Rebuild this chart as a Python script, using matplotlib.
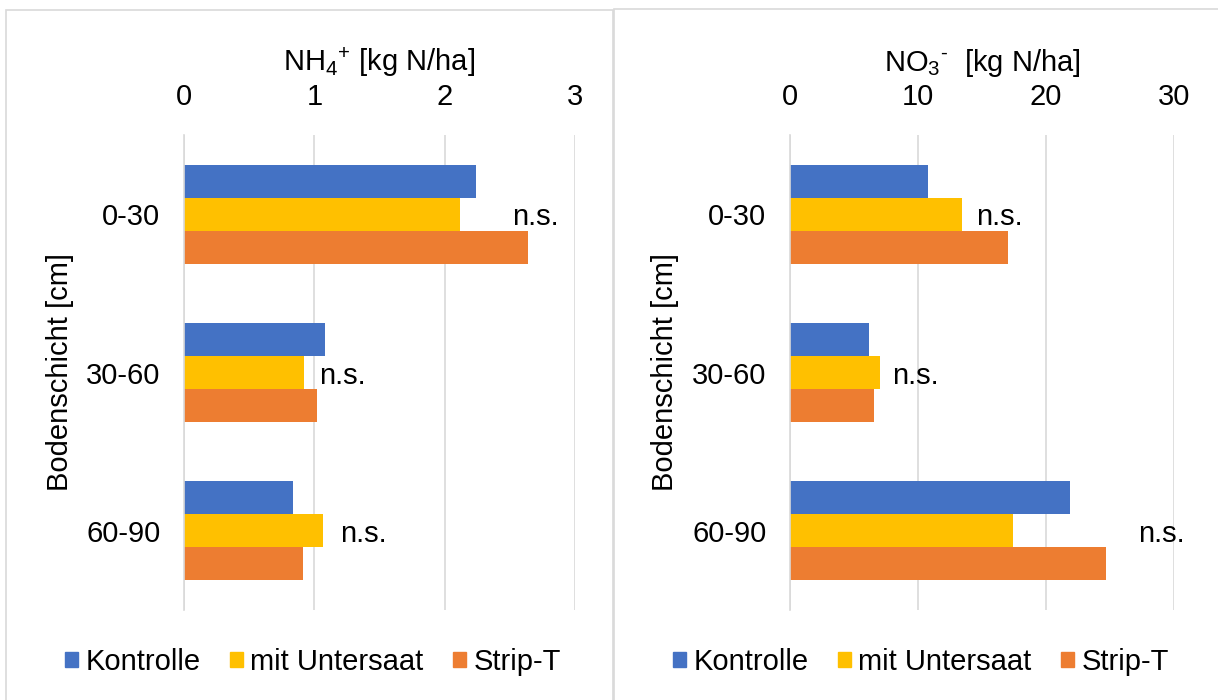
import numpy as np
import matplotlib
matplotlib.use("Agg")
from matplotlib import pyplot as plt
from matplotlib.patches import Rectangle, Patch

plt.rcParams["font.family"] = ["Liberation Sans", "DejaVu Sans"]
plt.rcParams["mathtext.default"] = "regular"

layers = ["0-30", "30-60", "60-90"]
treatments = ["Kontrolle", "mit Untersaat", "Strip-T"]
colors = ["#4472C4", "#FFC000", "#ED7D31"]

# NH4+ [kg N/ha] per layer, one list per treatment
nh4 = {
    "Kontrolle": [2.24, 1.08, 0.84],
    "mit Untersaat": [2.12, 0.92, 1.07],
    "Strip-T": [2.64, 1.02, 0.91],
}
# NO3- [kg N/ha]
no3 = {
    "Kontrolle": [10.8, 6.2, 21.9],
    "mit Untersaat": [13.4, 7.0, 17.4],
    "Strip-T": [17.0, 6.6, 24.7],
}
nh4_ticks = [0, 1, 2, 3]
no3_ticks = [0, 10, 20, 30]
# where the "n.s." notes sit (x in data units)
nh4_note_x = [2.52, 1.04, 1.20]
no3_note_x = [14.5, 8.0, 27.2]

W, H = 1218, 700
FS = 21
GRID = "#d9d9d9"

fig = plt.figure(figsize=(W / 100, H / 100), dpi=100)


def px_box(x0, y0, x1, y1):
    return [x0 / W, 1 - y1 / H, (x1 - x0) / W, (y1 - y0) / H]


# light frames round each chart
for x0, y0, x1, y1 in [(6, 10, 613, 710), (614, 9, 1230, 710)]:
    fig.patches.append(Rectangle((x0 / W, 1 - y1 / H), (x1 - x0) / W, (y1 - y0) / H,
                                 transform=fig.transFigure, fill=False,
                                 edgecolor=GRID, linewidth=1.2))


def panel(box, data, ticks, notes, xlabel, ylab_x, legend_cx):
    ax = fig.add_axes(px_box(*box))
    y = np.arange(len(layers))
    h = 0.625 / 3
    for j, name in enumerate(treatments):
        ax.barh(y + (j - 1) * h, data[name], height=h, color=colors[j],
                label=name, zorder=3)
    for i, nx in enumerate(notes):
        ax.text(nx, y[i] + 0.02, "n.s.", fontsize=FS, va="center", ha="left")
    ax.set_xlim(ticks[0], ticks[-1])
    ax.set_ylim(len(layers) - 0.5, -0.5)
    ax.set_xticks(ticks)
    ax.set_yticks(y, layers)
    ax.xaxis.tick_top()
    ax.xaxis.set_label_position("top")
    ax.set_xlabel(xlabel, fontsize=FS, labelpad=9)
    ax.tick_params(axis="x", length=0, pad=17, labelsize=FS)
    ax.tick_params(axis="y", length=0, pad=17, labelsize=FS)
    ax.grid(axis="x", color=GRID, linewidth=1.2, zorder=0)
    for s in ["top", "right", "bottom"]:
        ax.spines[s].set_visible(False)
    ax.spines["left"].set_color(GRID)
    ax.spines["left"].set_linewidth(1.2)
    ax.spines["left"].set_zorder(4)
    fig.text(ylab_x / W, 1 - 372 / H, "Bodenschicht [cm]", rotation=90,
             fontsize=FS, ha="center", va="center")
    handles = [Patch(color=c) for c in colors]
    fig.legend(handles, treatments, loc="center", ncol=3, frameon=False,
               bbox_to_anchor=(legend_cx / W, 1 - 662 / H), fontsize=FS,
               handlelength=0.45, handleheight=0.45, handletextpad=0.25,
               columnspacing=1.0)
    return ax


panel((184, 135, 575, 610), nh4, nh4_ticks, nh4_note_x,
      r"NH$_4{}^{+}$ [kg N/ha]", 60, 313)
panel((790, 135, 1174, 610), no3, no3_ticks, no3_note_x,
      "NO$_3{}^{\u2010}$  [kg N/ha]", 665, 921)

fig.savefig("out.png", dpi=100)
